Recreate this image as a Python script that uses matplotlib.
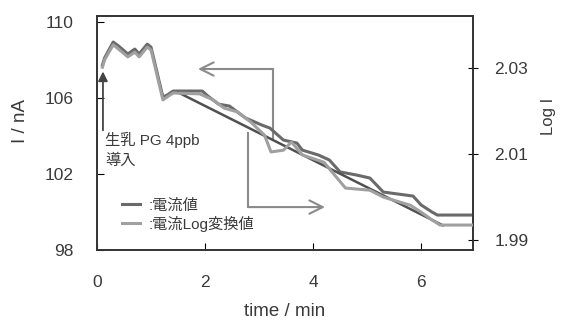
import matplotlib
matplotlib.use("Agg")
import matplotlib.pyplot as plt
from matplotlib.lines import Line2D

plt.rcParams['font.family'] = ['Liberation Sans', 'Noto Sans CJK JP', 'DejaVu Sans']

# current (nA), left axis
t_current = [0.10, 0.14, 0.30, 0.40, 0.57, 0.70, 0.78, 0.93, 1.00, 1.22, 1.30, 1.41,
             1.95, 2.05, 2.25, 2.45, 2.75, 3.05, 3.20, 3.45, 3.70, 3.80, 4.10, 4.30,
             4.50, 4.80, 5.05, 5.30, 5.85, 6.00, 6.20, 6.30, 7.00]
current = [107.74, 108.11, 108.95, 108.74, 108.32, 108.58, 108.32, 108.84, 108.68,
           106.05, 106.16, 106.37, 106.37, 106.11, 105.68, 105.58, 104.95, 104.58,
           104.42, 103.79, 103.63, 103.26, 103.00, 102.74, 102.11, 101.95, 101.79,
           101.05, 100.84, 100.37, 100.00, 99.84, 99.84]

# log-converted current, right axis
t_log = [0.10, 0.14, 0.30, 0.40, 0.57, 0.70, 0.78, 0.93, 1.00, 1.22, 1.30, 1.41,
         1.90, 2.15, 2.35, 2.60, 2.85, 3.10, 3.22, 3.45, 3.60, 3.80, 4.20, 4.40,
         4.60, 5.05, 5.30, 5.80, 6.00, 6.20, 6.35, 7.00]
log_current = [2.0302, 2.0319, 2.0354, 2.0344, 2.0326, 2.0337, 2.0326, 2.0349, 2.0342,
               2.0226, 2.0233, 2.0242, 2.0240, 2.0226, 2.0207, 2.0198, 2.0174, 2.0144,
               2.0105, 2.0109, 2.0128, 2.0098, 2.0081, 2.0051, 2.0021, 2.0016, 2.0000,
               1.9981, 1.9965, 1.9947, 1.9935, 1.9935]

# straight fit line
t_fit = [1.5, 6.4]
fit = [106.3, 99.3]

# annotation geometry (data units)
inject_t = 0.11
inject_from, inject_to = 104.3, 107.4
left_arrow = ([3.26, 3.26, 1.87], [103.9, 107.53, 107.53])
right_arrow = ([2.8, 2.8, 4.22], [104.16, 100.26, 100.26])

dark = '#6a6a6a'
light = '#a0a0a0'
txt = '#3a3a3a'

fig = plt.figure(figsize=(5.65, 3.27), dpi=100)
ax = fig.add_axes([0.1717, 0.2355, 0.6655, 0.7155])
ax2 = ax.twinx()

ax.plot(t_current, current, color=dark, lw=2.2, zorder=3)
ax2.plot(t_log, log_current, color=light, lw=2.2, zorder=3)
ax.plot(t_fit, fit, color='#505050', lw=1.8, zorder=4)

ax.set_xlim(0, 6.96)
ax.set_ylim(98.0, 110.32)
ax2.set_ylim(1.9877, 2.0421)
ax.set_xticks([0, 2, 4, 6])
ax.set_yticks([98, 102, 106, 110])
ax2.set_yticks([1.99, 2.01, 2.03])
ax2.set_yticklabels(['1.99', '2.01', '2.03'])

ax.tick_params(axis='x', direction='in', length=5, pad=18, labelsize=12.5, labelcolor=txt)
ax.tick_params(axis='y', direction='in', length=5, pad=17, labelsize=12.5, labelcolor=txt)
ax2.tick_params(axis='y', direction='inout', length=7, pad=12, labelsize=12.5, labelcolor=txt)

for a in (ax, ax2):
    for s in a.spines.values():
        s.set_linewidth(1.2)
        s.set_color('#333333')

ax.set_xlabel('time / min', fontsize=13.5, color=txt)
ax.xaxis.set_label_coords(0.5, -0.225)
ax.set_ylabel('I / nA', fontsize=13.5, color=txt)
ax.yaxis.set_label_coords(-0.18, 0.55)
ax2.set_ylabel('Log I', fontsize=12, color=txt)
ax2.yaxis.set_label_coords(1.18, 0.57)

# injection arrow and note
ax.annotate('', xy=(inject_t, inject_to), xytext=(inject_t, inject_from),
            arrowprops=dict(arrowstyle='-|>', color='#444444', lw=1.3,
                            mutation_scale=14, shrinkA=0, shrinkB=0))
ax.text(0.15, 104.2, '生乳 PG 4ppb\n導入', fontsize=11, color=txt,
        va='top', ha='left', linespacing=1.45)

# axis-pointing arrows
for xs, ys in (left_arrow, right_arrow):
    ax.plot(xs[:2], ys[:2], color='#8a8a8a', lw=1.5, zorder=2)
    ax.annotate('', xy=(xs[2], ys[2]), xytext=(xs[1], ys[1]),
                arrowprops=dict(arrowstyle='->', color='#8a8a8a', lw=1.5,
                                mutation_scale=24, shrinkA=0, shrinkB=0))

handles = [Line2D([], [], color=dark, lw=2.2), Line2D([], [], color=light, lw=2.2)]
ax2.legend(handles, [':電流値', ':電流Log変換値'], loc='lower left',
           bbox_to_anchor=(0.045, 0.045), frameon=False, fontsize=11,
           handlelength=1.2, handletextpad=0.6, labelspacing=0.2, borderpad=0,
           labelcolor=txt)

fig.savefig('out.png', dpi=100)
